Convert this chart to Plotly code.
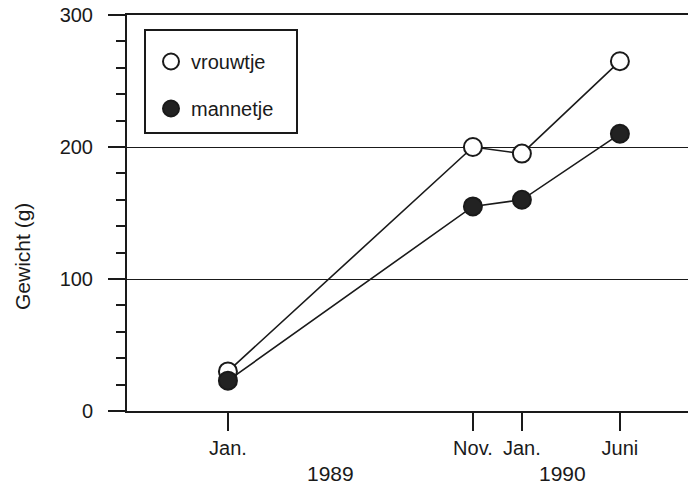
import plotly.graph_objects as go

# month offsets from Jan. 1989 (positions on the time axis)
months = [0, 10, 12, 16]
tick_labels = ["Jan.", "Nov.", "Jan.", "Juni"]
years = ["1989", "1990"]
vrouwtje = [30, 200, 195, 265]
mannetje = [23, 155, 160, 210]

FONT = "Liberation Sans, Arial, Helvetica, sans-serif"
INK = "#1a1a1a"

L, R, T, B = 127, 1, 15, 76
W, H = 689, 487
PW, PH = W - L - R, H - T - B


def px(xp):
    return (xp - L) / PW


def py(yp):
    return (H - B - yp) / PH


fig = go.Figure()
for name, vals, fill in [("vrouwtje", vrouwtje, "white"), ("mannetje", mannetje, "#222222")]:
    fig.add_trace(go.Scatter(
        x=months, y=vals, mode="lines", showlegend=False,
        line=dict(color=INK, width=1.6), hoverinfo="skip",
    ))
    fig.add_trace(go.Scatter(
        x=months, y=vals, name=name, mode="markers", legendgroup=name,
        marker=dict(size=18, color=fill, line=dict(color=INK, width=2)),
    ))

fig.update_layout(
    width=W, height=H,
    margin=dict(l=L, r=R, t=T, b=B),
    paper_bgcolor="white", plot_bgcolor="white",
    font=dict(family=FONT, size=20, color=INK),
    showlegend=True,
    legend=dict(
        x=px(151), y=py(42), xanchor="left", yanchor="top",
        borderwidth=0, bgcolor="rgba(0,0,0,0)",
        font=dict(size=20), tracegroupgap=18,
        traceorder="grouped",
    ),
    shapes=[dict(type="rect", xref="paper", yref="paper",
                 x0=px(145), x1=px(297), y0=py(133), y1=py(30),
                 line=dict(color=INK, width=2), fillcolor="white", layer="below")],
    xaxis=dict(
        range=[-4.12, 18.78],
        tickvals=months, ticktext=tick_labels,
        ticks="outside", ticklen=18, tickwidth=2, tickcolor=INK,
        showline=True, linecolor=INK, linewidth=2, mirror=True,
        showgrid=False, zeroline=False,
        tickfont=dict(size=20),
    ),
    yaxis=dict(
        range=[0, 300],
        tickvals=[0, 100, 200, 300],
        ticks="outside", ticklen=17, tickwidth=2, tickcolor=INK,
        ticklabelstandoff=11,
        minor=dict(dtick=20, ticks="outside", ticklen=9, tickwidth=1.5,
                   tickcolor=INK, showgrid=False),
        showline=True, linecolor=INK, linewidth=2,
        showgrid=True, gridcolor=INK, gridwidth=1.2,
        zeroline=False,
        tickfont=dict(size=20),
    ),
    annotations=[
        dict(text="Gewicht (g)", xref="paper", yref="paper", x=px(22),
             y=py(257), xanchor="center", yanchor="middle", showarrow=False,
             textangle=-90, font=dict(size=21)),
        dict(text=years[0], xref="paper", yref="paper", x=px(330),
             y=py(473), xanchor="center", yanchor="middle", showarrow=False,
             font=dict(size=21)),
        dict(text=years[1], xref="paper", yref="paper", x=px(562),
             y=py(473), xanchor="center", yanchor="middle", showarrow=False,
             font=dict(size=21)),
    ],
)

fig.write_html("out.html", config={"displayModeBar": False},
               post_script="document.body.style.margin='0';")
